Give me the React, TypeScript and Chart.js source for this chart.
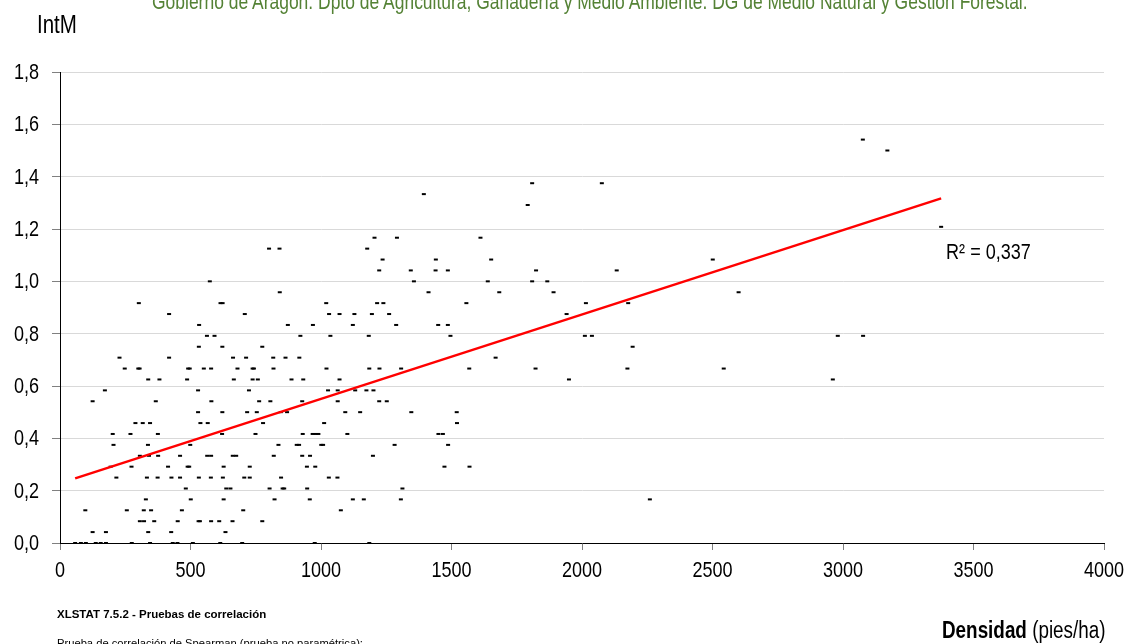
import { useEffect, useRef } from "react";
import { Chart, registerables } from "chart.js";

Chart.register(...registerables);

// Densidad (pies/ha) of each plot, grouped by IntM level (one line per level)
const densidad: number[] = [
  58, 80, 99, 137, 156, 176, 275, 345, 432, 450, 509, 614, 698, 976, 1185,
  125, 176, 338, 426, 634,
  306, 322, 361, 451, 531, 536, 579, 610, 661, 775,
  97, 256, 321, 349, 467, 702, 1076,
  329, 501, 627, 822, 957, 1122, 1164, 1306, 2260,
  482, 637, 653, 803, 853, 859, 947, 1312,
  216, 333, 374, 427, 460, 532, 578, 624, 706, 727, 847, 1030, 1063,
  194, 274, 414, 489, 495, 627, 727, 946, 978, 1473, 1569,
  306, 341, 376, 460, 564, 579, 662, 675, 819, 928, 958, 1199,
  205, 337, 499, 837, 907, 916, 1001, 1008, 1282, 1487,
  202, 270, 375, 621, 749, 930, 968, 979, 990, 1101, 1450, 1467,
  289, 317, 345, 538, 566, 778, 1012, 1521,
  529, 622, 717, 754, 846, 870, 1093, 1150, 1346, 1520,
  125, 367, 580, 763, 806, 928, 1064, 1223, 1252,
  172, 529, 724, 1027, 1064, 1131, 1174, 1201,
  338, 381, 487, 666, 738, 758, 887, 932, 1071, 1950, 2961,
  248, 300, 305, 491, 497, 551, 579, 680, 738, 743, 818, 1021, 1185, 1224, 1307, 1568, 1822, 2174, 2543,
  228, 418, 663, 713, 817, 864, 917, 1669,
  532, 622, 775, 2194,
  563, 592, 921, 1036, 1183, 1496, 2011, 2038, 2980, 3077,
  533, 873, 969, 1122, 1288, 1449, 1486,
  418, 708, 1031, 1071, 1128, 1195, 1261, 1941,
  302, 615, 623, 1020, 1215, 1239, 1557, 2015, 2177,
  842, 1412, 1683, 1891, 2600,
  574, 1356, 1639, 1809, 1867,
  1223, 1344, 1439, 1486, 1824, 2133,
  1236, 1440, 1652, 2501,
  801, 841, 1177,
  1205, 1291, 1611,
  3376,
  1792,
  1394,
  1809, 2076,
  3170,
  3076,
];

// IntM of each plot (same order as densidad)
const intM: number[] = [
  0, 0, 0, 0, 0, 0, 0, 0, 0, 0, 0, 0, 0, 0, 0,
  0.0417, 0.0417, 0.0417, 0.0417, 0.0417,
  0.0833, 0.0833, 0.0833, 0.0833, 0.0833, 0.0833, 0.0833, 0.0833, 0.0833, 0.0833,
  0.125, 0.125, 0.125, 0.125, 0.125, 0.125, 0.125,
  0.1667, 0.1667, 0.1667, 0.1667, 0.1667, 0.1667, 0.1667, 0.1667, 0.1667,
  0.2083, 0.2083, 0.2083, 0.2083, 0.2083, 0.2083, 0.2083, 0.2083,
  0.25, 0.25, 0.25, 0.25, 0.25, 0.25, 0.25, 0.25, 0.25, 0.25, 0.25, 0.25, 0.25,
  0.2917, 0.2917, 0.2917, 0.2917, 0.2917, 0.2917, 0.2917, 0.2917, 0.2917, 0.2917, 0.2917,
  0.3333, 0.3333, 0.3333, 0.3333, 0.3333, 0.3333, 0.3333, 0.3333, 0.3333, 0.3333, 0.3333, 0.3333,
  0.375, 0.375, 0.375, 0.375, 0.375, 0.375, 0.375, 0.375, 0.375, 0.375,
  0.4167, 0.4167, 0.4167, 0.4167, 0.4167, 0.4167, 0.4167, 0.4167, 0.4167, 0.4167, 0.4167, 0.4167,
  0.4583, 0.4583, 0.4583, 0.4583, 0.4583, 0.4583, 0.4583, 0.4583,
  0.5, 0.5, 0.5, 0.5, 0.5, 0.5, 0.5, 0.5, 0.5, 0.5,
  0.5417, 0.5417, 0.5417, 0.5417, 0.5417, 0.5417, 0.5417, 0.5417, 0.5417,
  0.5833, 0.5833, 0.5833, 0.5833, 0.5833, 0.5833, 0.5833, 0.5833,
  0.625, 0.625, 0.625, 0.625, 0.625, 0.625, 0.625, 0.625, 0.625, 0.625, 0.625,
  0.6667, 0.6667, 0.6667, 0.6667, 0.6667, 0.6667, 0.6667, 0.6667, 0.6667, 0.6667, 0.6667, 0.6667, 0.6667, 0.6667, 0.6667, 0.6667, 0.6667, 0.6667, 0.6667,
  0.7083, 0.7083, 0.7083, 0.7083, 0.7083, 0.7083, 0.7083, 0.7083,
  0.75, 0.75, 0.75, 0.75,
  0.7917, 0.7917, 0.7917, 0.7917, 0.7917, 0.7917, 0.7917, 0.7917, 0.7917, 0.7917,
  0.8333, 0.8333, 0.8333, 0.8333, 0.8333, 0.8333, 0.8333,
  0.875, 0.875, 0.875, 0.875, 0.875, 0.875, 0.875, 0.875,
  0.9167, 0.9167, 0.9167, 0.9167, 0.9167, 0.9167, 0.9167, 0.9167, 0.9167,
  0.9583, 0.9583, 0.9583, 0.9583, 0.9583,
  1, 1, 1, 1, 1,
  1.0417, 1.0417, 1.0417, 1.0417, 1.0417, 1.0417,
  1.0833, 1.0833, 1.0833, 1.0833,
  1.125, 1.125, 1.125,
  1.1667, 1.1667, 1.1667,
  1.2083,
  1.2917,
  1.3333,
  1.375, 1.375,
  1.5,
  1.5417,
];

// Linear trend line (Excel-style trendline)
const TREND_SLOPE = 0.0003225;
const TREND_INTERCEPT = 0.2285;
const R2_TEXT = "R² = 0,337";
const R2_LABEL_AT = [3395, 1.108];

const X_TICK_MAX = 4000;
const X_TICK_STEP = 500;
const Y_TICK_MAX = 1.8;
const Y_TICK_STEP = 0.2;

const HEADER =
  "Gobierno de Aragón. Dpto de Agricultura, Ganadería y Medio Ambiente. DG de Medio Natural y Gestión Forestal.";
const Y_TITLE = "IntM";
const X_TITLE_BOLD = "Densidad";
const X_TITLE_REST = " (pies/ha)";
const NOTE_1 = "XLSTAT 7.5.2 - Pruebas de correlación";
const NOTE_2 = "Prueba de correlación de Spearman (prueba no paramétrica):";

const SANS = "'Liberation Sans', Arial, sans-serif";
const NARROW_SCALE = 0.82; // Arial Narrow look from a horizontally compressed Arial-metric font

const fmtY = (v: number) => Number(v).toFixed(1).replace(".", ",");
const fmtX = (v: number) => String(v);

function narrowText(ctx: any, text: string, x: number, y: number) {
  ctx.save();
  ctx.translate(x, y);
  ctx.scale(NARROW_SCALE, 1);
  ctx.fillText(text, 0, 0);
  ctx.restore();
}

const labelsPlugin = {
  id: "narrowLabels",
  afterDraw(chart: any) {
    const { ctx, scales, chartArea } = chart;
    const xs = scales.x;
    const ys = scales.y;
    ctx.save();
    ctx.fillStyle = "#000";
    ctx.font = `22px ${SANS}`;
    ctx.textBaseline = "middle";
    ctx.textAlign = "right";
    ys.ticks.forEach((t: any) => {
      narrowText(ctx, fmtY(t.value), chartArea.left - 21, ys.getPixelForValue(t.value) + 1);
    });
    ctx.textAlign = "center";
    xs.ticks.forEach((t: any) => {
      narrowText(ctx, fmtX(t.value), xs.getPixelForValue(t.value), chartArea.bottom + 28);
    });
    ctx.textAlign = "left";
    narrowText(
      ctx,
      R2_TEXT,
      xs.getPixelForValue(R2_LABEL_AT[0]),
      ys.getPixelForValue(R2_LABEL_AT[1])
    );
    ctx.restore();
  },
};

const narrowStyle = (extra: any) => ({
  position: "absolute" as const,
  whiteSpace: "nowrap" as const,
  transform: `scaleX(${NARROW_SCALE})`,
  transformOrigin: "left top",
  fontFamily: SANS,
  ...extra,
});

export default function App() {
  const ref = useRef<HTMLCanvasElement | null>(null);

  useEffect(() => {
    if (!ref.current) return;
    const n = Math.min(densidad.length, intM.length);
    const points = [];
    for (let i = 0; i < n; i++) points.push({ x: densidad[i], y: intM[i] });
    const xMin = Math.min(...densidad);
    const xMax = Math.max(...densidad);
    const trend = [
      { x: xMin, y: TREND_INTERCEPT + TREND_SLOPE * xMin },
      { x: xMax, y: TREND_INTERCEPT + TREND_SLOPE * xMax },
    ];

    const chart = new Chart(ref.current, {
      type: "scatter",
      data: {
        datasets: [
          {
            type: "line",
            label: "Tendencia",
            data: trend,
            borderColor: "#ff0000",
            borderWidth: 2.5,
            pointRadius: 0,
            fill: false,
            clip: false,
          } as any,
          {
            label: "IntM",
            data: points,
            pointStyle: "line",
            pointRadius: 2,
            pointHoverRadius: 2,
            borderColor: "#000",
            backgroundColor: "#000",
            borderWidth: 2,
            clip: false,
          } as any,
        ],
      },
      plugins: [labelsPlugin],
      options: {
        animation: false,
        responsive: false,
        events: [],
        layout: { padding: { top: 72, right: 25, bottom: 0, left: 0 } },
        plugins: {
          legend: { display: false },
          tooltip: { enabled: false },
          title: { display: false },
        },
        scales: {
          x: {
            type: "linear",
            min: 0,
            max: X_TICK_MAX,
            afterFit: (s: any) => {
              s.height = 101;
            },
            ticks: {
              stepSize: X_TICK_STEP,
              display: false,
              callback: (v: any) => fmtX(v),
            },
            grid: {
              drawOnChartArea: false,
              drawTicks: true,
              tickLength: 7,
              tickColor: "#808080",
            },
            border: { display: true, color: "#000", width: 1 },
          },
          y: {
            type: "linear",
            min: 0,
            max: Y_TICK_MAX,
            afterFit: (s: any) => {
              s.width = 60;
            },
            ticks: {
              stepSize: Y_TICK_STEP,
              display: false,
              callback: (v: any) => fmtY(v),
            },
            grid: {
              color: "#d9d9d9",
              lineWidth: 1,
              drawTicks: true,
              tickLength: 8,
              tickColor: "#808080",
            },
            border: { display: true, color: "#000", width: 1 },
          },
        },
      } as any,
    });
    return () => chart.destroy();
  }, []);

  return (
    <div
      style={{
        position: "fixed",
        left: 0,
        top: 0,
        width: 1129,
        height: 644,
        overflow: "hidden",
        background: "#fff",
      }}
    >
      <canvas
        ref={ref}
        width={1129}
        height={644}
        style={{ position: "absolute", left: 0, top: 0, width: 1129, height: 644 }}
      />
      <div
        style={narrowStyle({
          left: 152,
          top: -8,
          fontSize: 21.3,
          lineHeight: "21.3px",
          color: "#548235",
        })}
      >
        {HEADER}
      </div>
      <div
        style={narrowStyle({
          left: 37,
          top: 12,
          fontSize: 25,
          lineHeight: "25px",
          color: "#000",
        })}
      >
        {Y_TITLE}
      </div>
      <div
        style={narrowStyle({
          left: 942,
          top: 619,
          fontSize: 23,
          lineHeight: "23px",
          color: "#000",
        })}
      >
        <b>{X_TITLE_BOLD}</b>
        {X_TITLE_REST}
      </div>
      <div
        style={{
          position: "absolute",
          left: 57,
          top: 608,
          whiteSpace: "nowrap",
          fontFamily: SANS,
          fontSize: 11.5,
          lineHeight: "12px",
          fontWeight: "bold",
          color: "#000",
        }}
      >
        {NOTE_1}
      </div>
      <div
        style={{
          position: "absolute",
          left: 57,
          top: 636.5,
          whiteSpace: "nowrap",
          fontFamily: SANS,
          fontSize: 11.2,
          lineHeight: "12px",
          color: "#000",
        }}
      >
        {NOTE_2}
      </div>
    </div>
  );
}
